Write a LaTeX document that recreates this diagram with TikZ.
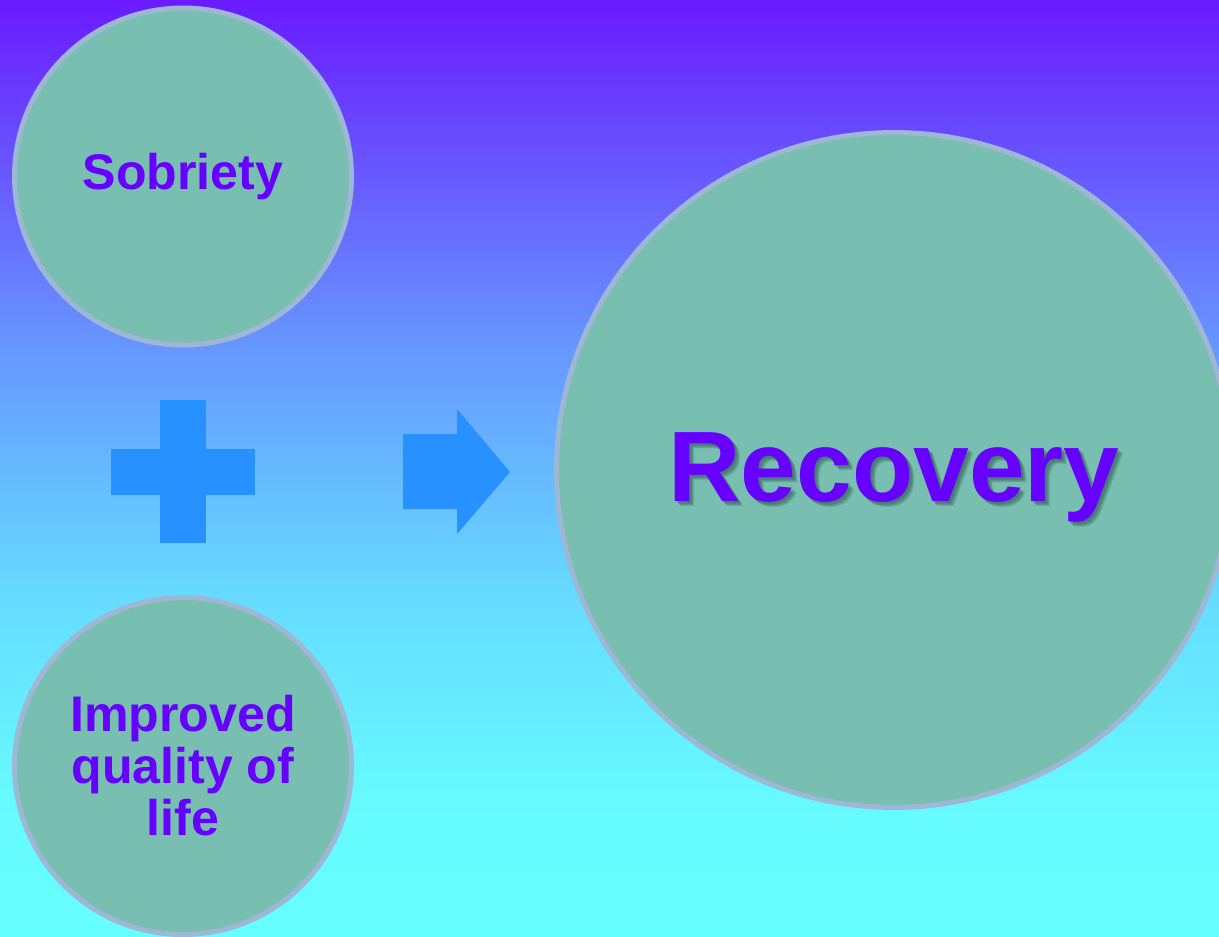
\documentclass[tikz,border=0pt]{standalone}
\usepackage{fontspec}
\setmainfont{Liberation Sans}
\usepackage{tikz}
\definecolor{bubblefill}{HTML}{78BFB1}
\definecolor{bubbleline}{HTML}{9EB7D5}
\definecolor{inkpurple}{HTML}{6600FF}
\definecolor{signblue}{HTML}{2791FF}
\definecolor{shadowink}{HTML}{2E5A52}
\definecolor{bgbottom}{RGB}{102,255,255}
\definecolor{bglow}{RGB}{102,250,255}
\definecolor{bgmid}{RGB}{102,220,255}
\definecolor{bghigh}{RGB}{102,152,255}
\definecolor{bgtop}{RGB}{106,26,255}
\pgfdeclareverticalshading{bgfade}{100bp}{%
  color(0bp)=(bgbottom); color(25bp)=(bgbottom);
  color(32.3bp)=(bglow); color(42.9bp)=(bgmid);
  color(56.3bp)=(bghigh);
  color(75bp)=(bgtop); color(100bp)=(bgtop)}
\tikzstyle{bubble} = [shape=circle,fill=bubblefill,draw=bubbleline,line width=2.85pt,inner sep=0pt,text=inkpurple,font=\bfseries\fontsize{28.5pt}{29.6pt}\selectfont,align=center]
\tikzstyle{bigword} = [font=\bfseries\fontsize{57pt}{60pt}\selectfont,inner sep=0pt]
\tikzstyle{sign} = [fill=signblue]

\begin{document}
\begin{tikzpicture}[x=0.02cm,y=-0.02cm]
\useasboundingbox (0,0) rectangle (1219,936);
\shade[shading=bgfade] (0,0) rectangle (1219,936);

\node[bubble,minimum size=6.74cm] (sobriety) at (183,176.5) {Sobriety};
\node[bubble,minimum size=6.74cm] (quality)  at (183,766)   {Improved\\quality of\\life};
\node[bubble,minimum size=13.5cm] (recovery) at (894,470)   {};

% plus and arrow signs
\coordinate (plus) at (183,472);
\fill[sign] ([shift={(-23,-72)}]plus) rectangle ([shift={(23,71)}]plus);
\fill[sign] ([shift={(-72,-23)}]plus) rectangle ([shift={(72,23)}]plus);
\fill[sign] (403,434) -- (457,434) -- (457,409) -- (510,472) -- (457,534) -- (457,509) -- (403,509) -- cycle;

% text with soft shadow
\foreach \d in {2,3,4,5}
  \node[bigword,text=shadowink,opacity=.22] at ([xshift=\d*0.02cm,yshift=-\d*0.02cm-0.14cm]recovery.center) {Recovery};
\node[bigword,text=inkpurple] (title) at ([yshift=-0.14cm]recovery.center) {Recovery};
\end{tikzpicture}
\end{document}
